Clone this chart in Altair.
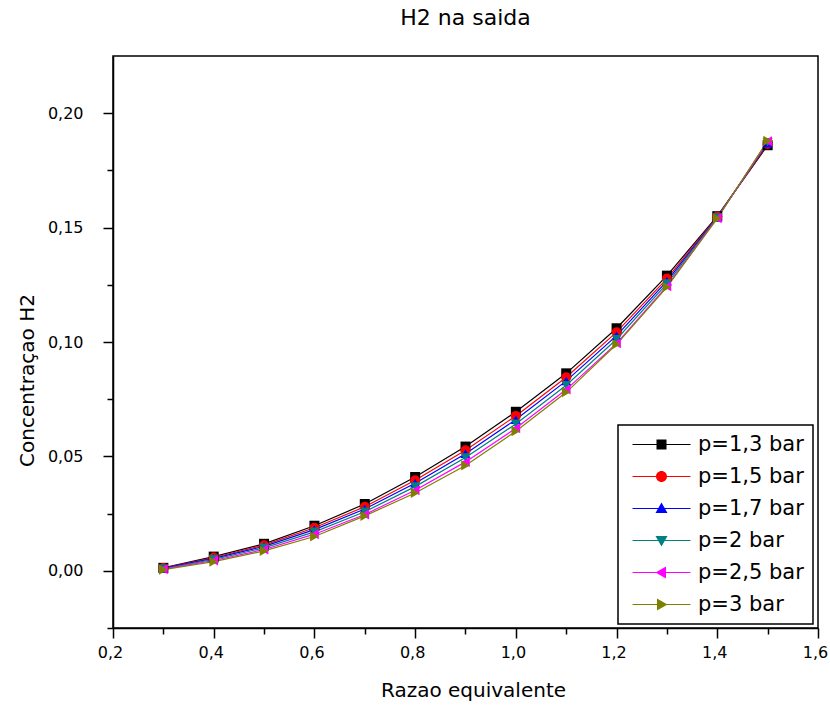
import altair as alt
import pandas as pd

# ---------------- data ----------------
x_vals = [0.3, 0.4, 0.5, 0.6, 0.7, 0.8, 0.9, 1.0, 1.1, 1.2, 1.3, 1.4, 1.5]
series_names = ["p=1,3 bar", "p=1,5 bar", "p=1,7 bar", "p=2 bar", "p=2,5 bar", "p=3 bar"]
p13 = [0.0013, 0.0062, 0.0118, 0.0197, 0.0292, 0.0410, 0.0543, 0.0695, 0.0863, 0.1060, 0.1290, 0.1550, 0.1860]
p15 = [0.0012, 0.0058, 0.0112, 0.0188, 0.0280, 0.0396, 0.0527, 0.0677, 0.0846, 0.1043, 0.1277, 0.1548, 0.1865]
p17 = [0.0011, 0.0054, 0.0107, 0.0180, 0.0270, 0.0383, 0.0512, 0.0661, 0.0830, 0.1028, 0.1266, 0.1546, 0.1869]
p20 = [0.0009, 0.0050, 0.0100, 0.0170, 0.0258, 0.0368, 0.0495, 0.0642, 0.0811, 0.1012, 0.1255, 0.1544, 0.1873]
p25 = [0.0007, 0.0045, 0.0093, 0.0160, 0.0246, 0.0352, 0.0476, 0.0623, 0.0792, 0.0994, 0.1244, 0.1541, 0.1877]
p30 = [0.0005, 0.0040, 0.0087, 0.0150, 0.0240, 0.0340, 0.0460, 0.0610, 0.0780, 0.0990, 0.1240, 0.1540, 0.1880]
series_values = [p13, p15, p17, p20, p25, p30]

x_ticks = [0.2, 0.3, 0.4, 0.5, 0.6, 0.7, 0.8, 0.9, 1.0, 1.1, 1.2, 1.3, 1.4, 1.5, 1.6]
y_ticks = [-0.025, 0.0, 0.025, 0.05, 0.075, 0.1, 0.125, 0.15, 0.175, 0.2]

# ---------------- styles ----------------
colors = ["#000000", "#ff0000", "#0000ff", "#008080", "#ff00ff", "#808000"]
shapes = ["square", "circle", "triangle-up", "triangle-down", "triangle-left", "triangle-right"]
LINE = "M-1,-0.12H10.6V0.12H-1Z "
legend_shapes = [
    LINE + "M3.8,-1H5.8V1H3.8Z",
    LINE + "M5.9,0A1.1,1.1 0 1,1 3.7,0A1.1,1.1 0 1,1 5.9,0Z",
    LINE + "M4.8,-1.2L6,0.9L3.6,0.9Z",
    LINE + "M3.6,-0.9L6,-0.9L4.8,1.2Z",
    LINE + "M3.6,0L5.7,-1.2L5.7,1.2Z",
    LINE + "M6,0L3.9,1.2L3.9,-1.2Z",
]
FONT = "DejaVu Sans"

rows = []
for name, vals in zip(series_names, series_values):
    for xv, yv in zip(x_vals, vals):
        rows.append({"x": xv, "y": yv, "series": name})
df = pd.DataFrame(rows)

x_axis = alt.Axis(
    values=x_ticks,
    labelExpr="abs(datum.value/0.2 - round(datum.value/0.2)) < 0.001 ? replace(format(datum.value, '.1f'), '.', ',') : ''",
    tickSize={"condition": {"test": "abs(datum.value/0.2 - round(datum.value/0.2)) < 0.001", "value": 10}, "value": 6},
    title="Razao equivalente",
    titleX=360, titleY=62, titleBaseline="middle", titleAlign="center",
    labelPadding=6, labelOffset=-3, labelOverlap=False, labelFlush=False, grid=False,
)
y_axis = alt.Axis(
    values=y_ticks,
    labelExpr="abs(datum.value/0.05 - round(datum.value/0.05)) < 0.001 ? replace(format(datum.value, '.2f'), '.', ',') : ''",
    tickSize={"condition": {"test": "abs(datum.value/0.05 - round(datum.value/0.05)) < 0.001", "value": 10}, "value": 6},
    title="Concentraçao H2",
    titleX=-86, titleY=324, titleBaseline="middle", titleAlign="center", titleAngle=-90,
    labelPadding=20, labelOverlap=False, labelFlush=False, grid=False,
)

X = alt.X("x:Q", scale=alt.Scale(domain=[0.2, 1.6], nice=False, zero=False), axis=x_axis)
Y = alt.Y("y:Q", scale=alt.Scale(domain=[-0.025, 0.225], nice=False, zero=False), axis=y_axis)

base = alt.Chart(df)

lines = base.mark_line(strokeWidth=1.2, clip=True).encode(
    x=X, y=Y,
    color=alt.Color("series:N", scale=alt.Scale(domain=series_names, range=colors), legend=None),
)
points = base.mark_point(filled=True, size=100, opacity=1, clip=True).encode(
    x=X, y=Y,
    color=alt.Color("series:N", scale=alt.Scale(domain=series_names, range=colors), legend=None),
    shape=alt.Shape("series:N", scale=alt.Scale(domain=series_names, range=shapes), legend=None),
)

leg = alt.Legend(
    title=None, orient="none", legendX=505, legendY=369,
    strokeColor="black", padding=9, rowPadding=10,
    symbolSize=100, symbolOpacity=1, symbolStrokeWidth=0,
    labelFont=FONT, labelFontSize=21, labelColor="black", labelOffset=50,
)
legend_layer = base.mark_point(filled=True, size=100, opacity=0).encode(
    x=X, y=Y,
    color=alt.Color("series:N", scale=alt.Scale(domain=series_names, range=colors), legend=leg),
    shape=alt.Shape("series:N", scale=alt.Scale(domain=series_names, range=legend_shapes), legend=leg),
)

chart = alt.layer(lines, points, legend_layer).resolve_scale(
    color="independent", shape="independent"
).properties(
    width=705, height=572,
    padding={"left": 113, "top": 56, "right": 12, "bottom": 83},
    autosize=alt.AutoSizeParams(type="none"),
    title=alt.TitleParams("H2 na saida", font=FONT, fontSize=22, fontWeight="normal",
                          color="black", anchor="middle", offset=26),
).configure_view(
    stroke="black", strokeWidth=1.5
).configure_axis(
    domainColor="black", domainWidth=1.5, tickColor="black", tickWidth=1.5,
    labelFont=FONT, labelFontSize=16, labelColor="black",
    titleFont=FONT, titleFontSize=20, titleFontWeight="normal", titleColor="black",
).configure_legend(
    strokeWidth=1.5
)

chart.save("out.html", embed_options={"renderer": "svg", "actions": False})
